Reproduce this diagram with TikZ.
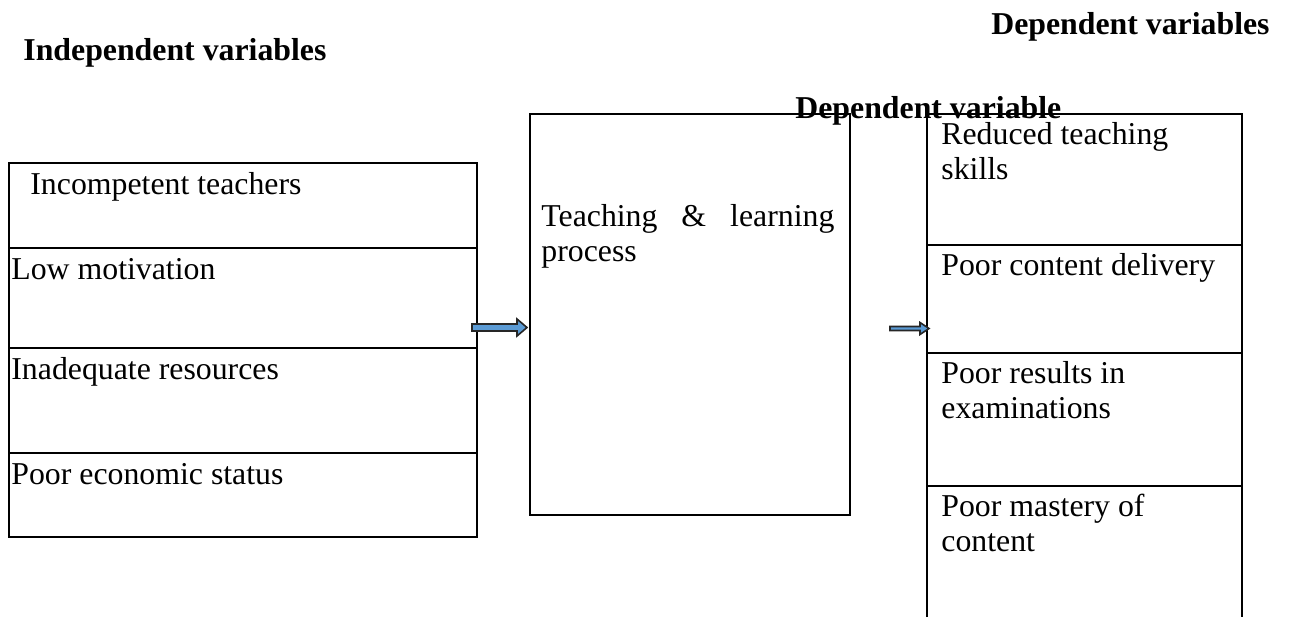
\documentclass[tikz,border=0pt]{standalone}
\usepackage{fontspec}
\setmainfont{Liberation Serif}
\definecolor{arrowblue}{RGB}{91,155,213}
\begin{document}
\begin{tikzpicture}[x=0.5pt,y=-0.5pt,
  frame/.style={line width=1pt,draw=black},
  txt/.style={inner sep=0pt,anchor=base west,font=\fontsize{15.9}{17.5}\selectfont},
  head/.style={inner sep=0pt,font=\fontsize{15.9}{17.5}\selectfont\bfseries},
  blockarrow/.style={fill=arrowblue,draw=black!85,line width=0.8pt,line join=miter}]
\useasboundingbox (0,0) rectangle (1289,617);
% headings
\node[head,anchor=base west] (indep) at (23,60) {Independent variables};
\node[head,anchor=base east] (deps) at (1270,34) {Dependent variables};
% left box
\draw[frame] (9,163) rectangle (477,537);
\draw[frame] (9,248) -- (477,248);
\draw[frame] (9,348) -- (477,348);
\draw[frame] (9,453) -- (477,453);
\node[txt] (l1) at (30,194) {Incompetent teachers};
\node[txt] (l2) at (11,279) {Low motivation};
\node[txt] (l3) at (11,379) {Inadequate resources};
\node[txt] (l4) at (11,484) {Poor economic status};
% middle box
\draw[frame] (530,114) rectangle (850,515);
\node[txt] (m1) at (541,226) {\makebox[146.5pt][s]{Teaching \& learning}};
\node[txt] (m2) at (541,261) {process};
% right box (open at bottom)
\draw[frame] (927,617) -- (927,114) -- (1242,114) -- (1242,617);
\draw[frame] (927,245) -- (1242,245);
\draw[frame] (927,353) -- (1242,353);
\draw[frame] (927,486) -- (1242,486);
\node[head,anchor=base west] (dep) at (795,118) {Dependent variable};
\node[txt] (r1) at (941,144) {Reduced teaching};
\node[txt] (r2) at (941,179) {skills};
\node[txt] (r3) at (941,275) {Poor content delivery};
\node[txt] (r4) at (941,383) {Poor results in};
\node[txt] (r5) at (941,418) {examinations};
\node[txt] (r6) at (941,516) {Poor mastery of};
\node[txt] (r7) at (941,551) {content};
% block arrows
\draw[blockarrow] (472,324) -- (517,324) -- (517,319) -- (527,327.5) -- (517,336) -- (517,331) -- (472,331) -- cycle;
\draw[blockarrow] (890,326.5) -- (920,326.5) -- (920,322.5) -- (929,328.5) -- (920,334.5) -- (920,330.5) -- (890,330.5) -- cycle;
\end{tikzpicture}
\end{document}
